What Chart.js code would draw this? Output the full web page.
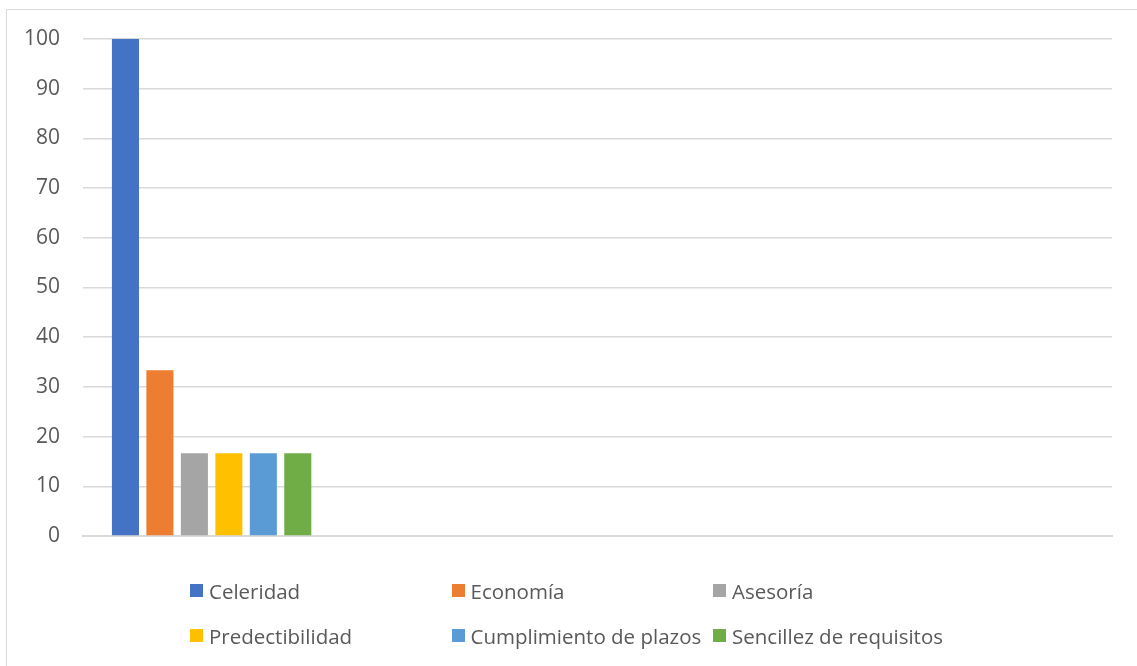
<!DOCTYPE html>
<html>
<head>
<meta charset="utf-8">
<script src="https://cdn.jsdelivr.net/npm/chart.js@4/dist/chart.umd.min.js"></script>
<style>
  html, body { margin: 0; padding: 0; background: #fff; overflow: hidden; }
  #wrap { position: relative; width: 1137px; height: 666px; }
  #frame { position: absolute; left: 6px; top: 9px; width: 1140px; height: 670px; border: 1px solid #d9d9d9; box-sizing: border-box; }
  #chart { position: absolute; left: 0; top: 0; }
  #legend { position: absolute; left: 190px; top: 577px; display: grid; grid-template-columns: 261.5px 261.5px 261.5px; row-gap: 18px; font-family: "Open Sans", sans-serif; font-size: 20.5px; color: #595959; }
  #legend .item { display: flex; align-items: center; height: 27px; white-space: nowrap; }
  #legend .box { width: 13px; height: 13px; margin-right: 6px; flex: none; }
</style>
</head>
<body>
<div id="wrap">
  <div id="frame"></div>
  <canvas id="chart" width="1137" height="666"></canvas>
  <div id="legend"></div>
</div>
<script>
// --- Data ---
const categories = ['', '', '', ''];
const seriesNames = ['Celeridad', 'Economía', 'Asesoría', 'Predectibilidad', 'Cumplimiento de plazos', 'Sencillez de requisitos'];
const seriesValues = [
    [100, null, null, null],
    [33.33, null, null, null],
    [16.67, null, null, null],
    [16.67, null, null, null],
    [16.67, null, null, null],
    [16.67, null, null, null]
];
const seriesColors = ['#4472C4', '#ED7D31', '#A5A5A5', '#FFC000', '#5B9BD5', '#70AD47'];
const yTicks = [0, 10, 20, 30, 40, 50, 60, 70, 80, 90, 100];

document.addEventListener('DOMContentLoaded', () => {
    const ctx = document.getElementById('chart').getContext('2d');

    const datasets = seriesNames.map((name, i) => ({
        label: name,
        data: seriesValues[i],
        backgroundColor: seriesColors[i],
        borderWidth: 0,
        categoryPercentage: 0.804,
        barPercentage: 0.785
    }));

    new Chart(ctx, {
        type: 'bar',
        data: { labels: categories, datasets: datasets },
        options: {
            responsive: false,
            animation: false,
            layout: { padding: { left: 0, top: 39, right: 25, bottom: 130 } },
            plugins: { legend: { display: false }, tooltip: { enabled: false } },
            scales: {
                x: {
                    grid: { display: false },
                    border: { display: true, color: '#d9d9d9', width: 2 },
                    ticks: { display: false },
                    afterFit: scale => { scale.height = 0; }
                },
                y: {
                    min: 0,
                    max: 100,
                    afterBuildTicks: scale => { scale.ticks = yTicks.map(v => ({ value: v })); },
                    afterFit: scale => { scale.width = 83; },
                    grid: { color: '#d9d9d9', lineWidth: 1.6, drawTicks: false },
                    border: { display: false },
                    ticks: {
                        padding: 23,
                        color: '#595959',
                        font: { family: 'Open Sans', size: 21 }
                    }
                }
            }
        }
    });

    // --- Legend in three columns ---
    const legend = document.getElementById('legend');
    seriesNames.forEach((name, i) => {
        const item = document.createElement('div');
        item.className = 'item';
        item.innerHTML = `<span class="box" style="background:${seriesColors[i]}"></span><span>${name}</span>`;
        legend.appendChild(item);
    });
});
</script>
</body>
</html>
